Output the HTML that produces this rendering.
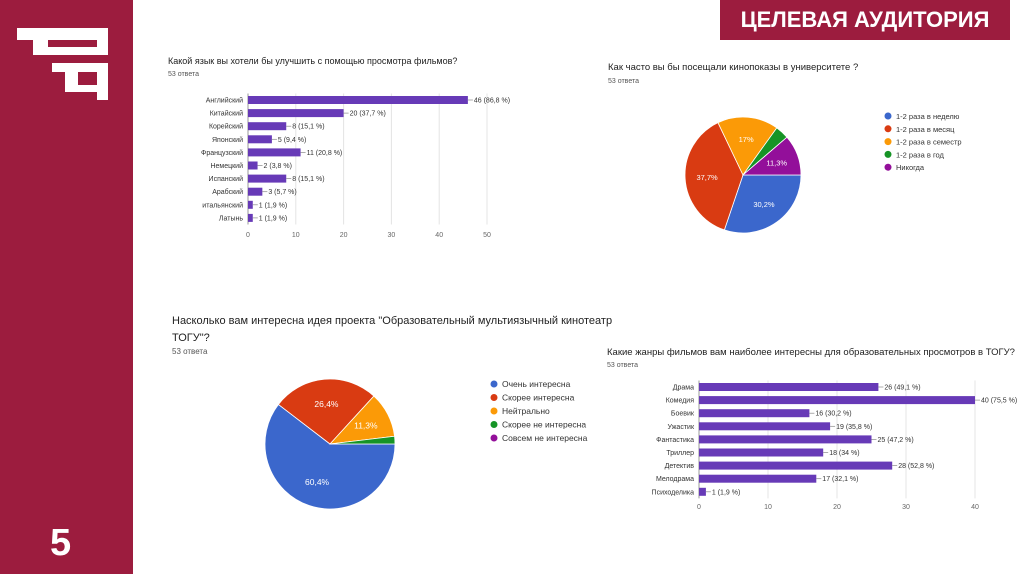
<!DOCTYPE html>
<html><head><meta charset="utf-8"><style>
body{margin:0;width:1024px;height:574px;position:relative;background:#fff;font-family:"Liberation Sans",sans-serif;overflow:hidden}
.side{position:absolute;left:0;top:0;width:133px;height:574px;background:#9c1c3e}
.t{position:absolute;color:#222;white-space:nowrap}
</style></head><body>
<div class="side">
<svg width="133" height="120">
<g fill="#fff">
<rect x="17" y="28" width="91" height="12"/>
<rect x="33" y="28" width="15" height="27"/>
<rect x="47" y="47" width="61" height="8"/>
<rect x="97" y="28" width="11" height="27"/>
<rect x="52" y="63" width="56" height="9"/>
<rect x="65" y="63" width="13" height="29"/>
<rect x="65" y="85" width="43" height="7"/>
<rect x="97" y="63" width="11" height="37"/>
</g>
</svg>
<div style="position:absolute;left:50px;top:522px;color:#fff;font-size:38px;font-weight:bold">5</div>
</div>
<div style="position:absolute;left:720px;top:0;width:290px;height:40px;background:#9c1c3e;color:#fff;font-size:22px;font-weight:bold;line-height:40px;text-align:center">ЦЕЛЕВАЯ АУДИТОРИЯ</div>

<div class="t" style="left:168px;top:56px;font-size:9px">Какой язык вы хотели бы улучшить с помощью просмотра фильмов?</div>
<div class="t" style="left:168px;top:71px;font-size:7px;color:#555">53 ответа</div>
<div class="t" style="left:608px;top:62px;font-size:9.5px">Как часто вы бы посещали кинопоказы в университете ?</div>
<div class="t" style="left:608px;top:78px;font-size:7px;color:#555">53 ответа</div>
<div class="t" style="left:172px;top:313px;font-size:11px;line-height:17px">Насколько вам интересна идея проекта "Образовательный мультиязычный кинотеатр<br>ТОГУ"?</div>
<div class="t" style="left:172px;top:347px;font-size:8px;color:#555">53 ответа</div>
<div class="t" style="left:607px;top:347px;font-size:9.5px">Какие жанры фильмов вам наиболее интересны для образовательных просмотров в ТОГУ?</div>
<div class="t" style="left:607px;top:362px;font-size:7px;color:#555">53 ответа</div>

<svg id="svg" width="1024" height="574" style="position:absolute;left:0;top:0"></svg>
<script>
const langCats=["Английский","Китайский","Корейский","Японский","Французский","Немецкий","Испанский","Арабский","итальянский","Латынь"];
const langVals=[46,20,8,5,11,2,8,3,1,1];
const langPct=["86,8","37,7","15,1","9,4","20,8","3,8","15,1","5,7","1,9","1,9"];
const langTicks=[0,10,20,30,40,50];
const genreCats=["Драма","Комедия","Боевик","Ужастик","Фантастика","Триллер","Детектив","Мелодрама","Психоделика"];
const genreVals=[26,40,16,19,25,18,28,17,1];
const genrePct=["49,1","75,5","30,2","35,8","47,2","34","52,8","32,1","1,9"];
const genreTicks=[0,10,20,30,40];
const freqLabels=["1-2 раза в неделю","1-2 раза в месяц","1-2 раза в семестр","1-2 раза в год","Никогда"];
const freqVals=[30.2,37.7,17,3.8,11.3];
const interLabels=["Очень интересна","Скорее интересна","Нейтрально","Скорее не интересна","Совсем не интересна"];
const interVals=[60.4,26.4,11.3,1.9,0];
const colors=["#3b67cc","#d93b12","#fb9a07","#169426","#930f9a"];
const NS="http://www.w3.org/2000/svg";
const svg=document.getElementById('svg');
function mk(tag,attrs,name){const e=document.createElementNS(NS,tag);for(const k in attrs)e.setAttribute(k,attrs[k]);


svg.appendChild(e);return e;}
function txt(x,y,s,size,fill,anchor,name){const e=mk('text',{x:x,y:y,'font-size':size,fill:fill,'text-anchor':anchor||'start','font-family':'Liberation Sans, sans-serif'},name);e.textContent=s;return e;}
function bars(cats,vals,pct,ticks,x0,x1,maxV,y0,step,bh,tickY,pre){
  const sx=v=>x0+(x1-x0)*v/maxV;
  ticks.forEach(t=>{mk('line',{x1:sx(t),x2:sx(t),y1:y0-step/2,y2:y0+step*(cats.length-0.5),stroke:t===0?'#999':'#e4e4e4','stroke-width':1},pre+'-gridline');
    txt(sx(t),tickY,String(t),7,'#666','middle',pre+'-tick-label');});
  cats.forEach((c,i)=>{const cy=y0+i*step;
    txt(x0-5,cy+2.5,c,7,'#333','end',pre+'-category-label');
    mk('rect',{x:x0,y:cy-bh/2,width:sx(vals[i])-x0,height:bh,fill:'#673ab7'},pre+'-bar');
    mk('line',{x1:sx(vals[i]),x2:sx(vals[i])+5,y1:cy,y2:cy,stroke:'#888','stroke-width':0.7},pre+'-value-leader');
    txt(sx(vals[i])+6,cy+2.5,vals[i]+' ('+pct[i]+' %)',7,'#333','start',pre+'-value-label');});
}
bars(langCats,langVals,langPct,langTicks,248,487,50,100,13.1,8,237,'lang');
bars(genreCats,genreVals,genrePct,genreTicks,699,975,40,387,13.1,8,509,'genre');
function pie(vals,labels,cx,cy,r,lx,ly,ls,fs,pre){
  let a=0;
  vals.forEach((v,i)=>{if(v<=0)return;const a0=a,a1=a+v/100*2*Math.PI;a=a1;
    const p=(ang)=>[cx+r*Math.cos(ang),cy+r*Math.sin(ang)];const [x0,y0]=p(a0),[x1,y1]=p(a1);
    mk('path',{d:`M${cx},${cy}L${x0},${y0}A${r},${r} 0 ${a1-a0>Math.PI?1:0} 1 ${x1},${y1}Z`,fill:colors[i],stroke:'#fff','stroke-width':0.8},pre+'-slice');
    if(v>=10){const m=(a0+a1)/2;txt(cx+r*0.62*Math.cos(m),cy+r*0.62*Math.sin(m)+3,String(v).replace('.',',')+'%',fs,'#fff','middle',pre+'-slice-label');}
  });
  labels.forEach((l,i)=>{mk('circle',{cx:lx,cy:ly+i*ls,r:3.5,fill:colors[i]},pre+'-legend-marker');
    txt(lx+8,ly+i*ls+3,l,fs,'#333','start',pre+'-legend-label');});
}
pie(freqVals,freqLabels,743,175,58,888,116,12.8,7.5,'freq');
pie(interVals,interLabels,330,444,65,494,384,13.5,8.5,'interest');
</script>
</body></html>
